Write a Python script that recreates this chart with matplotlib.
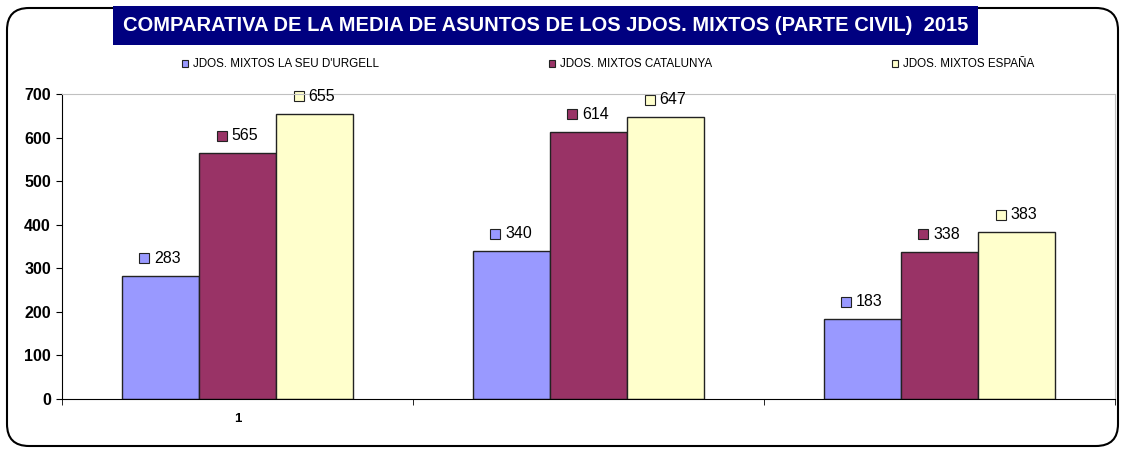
import numpy as np
import matplotlib.pyplot as plt
import matplotlib.patches as mpatches
from matplotlib.transforms import offset_copy

plt.rcParams['font.family'] = ['Liberation Sans', 'DejaVu Sans']

series = ["JDOS. MIXTOS LA SEU D'URGELL", 'JDOS. MIXTOS CATALUNYA', 'JDOS. MIXTOS ESPAÑA']
urgell = [283, 340, 183]
catalunya = [565, 614, 338]
espana = [655, 647, 383]
groups = ['1', '', '']
colours = ['#9999FF', '#993366', '#FFFFCC']

fig = plt.figure(figsize=(11.21, 4.5), dpi=100)
fig.patch.set_facecolor('white')

# rounded outer frame
frame = mpatches.FancyBboxPatch((0.07, 0.04), 11.11, 4.38,
                                boxstyle='round,pad=0,rounding_size=0.22',
                                transform=fig.dpi_scale_trans, facecolor='none',
                                edgecolor='black', linewidth=1.5)
fig.patches.append(frame)

# title on navy box
fig.patches.append(mpatches.Rectangle((0.1008, 0.900), 0.7716, 0.0867,
                                      transform=fig.transFigure,
                                      facecolor='#000080', edgecolor='none'))
fig.text(0.4866, 0.943, 'COMPARATIVA DE LA MEDIA DE ASUNTOS DE LOS JDOS. MIXTOS (PARTE CIVIL)  2015',
         ha='center', va='center', color='white', fontsize=14.5, fontweight='bold')

ax = fig.add_axes([0.0553, 0.1133, 0.9393, 0.6777])
x = np.arange(len(groups))
width = 0.22
for i, (vals, colour) in enumerate(zip([urgell, catalunya, espana], colours)):
    xs = x + (i - 1) * width
    ax.bar(xs, vals, width, color=colour, edgecolor='#222222', linewidth=1)
    sq_tr = offset_copy(ax.transData, fig=fig, x=-11.5, y=12.5, units='points')
    txt_tr = offset_copy(ax.transData, fig=fig, x=-4.5, y=12.5, units='points')
    for xv, v in zip(xs, vals):
        ax.plot(xv, v, marker='s', markersize=6.5, markerfacecolor=colour,
                markeredgecolor='#222222', markeredgewidth=0.8,
                transform=sq_tr, clip_on=False)
        ax.text(xv, v, str(v), transform=txt_tr, ha='left', va='center',
                fontsize=11.5, color='black')

ax.set_xlim(-0.5, 2.5)
ax.set_ylim(0, 700)
ax.set_yticks(range(0, 701, 100))
ax.set_yticklabels([str(v) for v in range(0, 701, 100)], fontsize=11.5, fontweight='bold')
ax.set_xticks(x)
ax.set_xticklabels(groups, fontsize=9.5, fontweight='bold')
ax.set_xticks([-0.5, 0.5, 1.5, 2.5], minor=True)
ax.tick_params(axis='x', which='major', length=0, pad=10)
ax.tick_params(axis='x', which='minor', length=4, direction='out', color='black')
ax.tick_params(axis='y', length=4, direction='out', color='black', pad=4)
for side in ['top', 'right']:
    ax.spines[side].set_color('#C0C0C0')
for side in ['left', 'bottom']:
    ax.spines[side].set_color('black')

# legend
leg_x = [0.1650, 0.4924, 0.7984]
for name, colour, lx in zip(series, colours, leg_x):
    fig.patches.append(mpatches.Rectangle((lx - 0.0030, 0.851), 0.0060, 0.0150,
                                          transform=fig.transFigure, facecolor=colour,
                                          edgecolor='#222222', linewidth=0.8))
    fig.text(lx + 0.0068, 0.858, name, ha='left', va='center', fontsize=8.4)

plt.savefig('out.png', dpi=100)
plt.close()
